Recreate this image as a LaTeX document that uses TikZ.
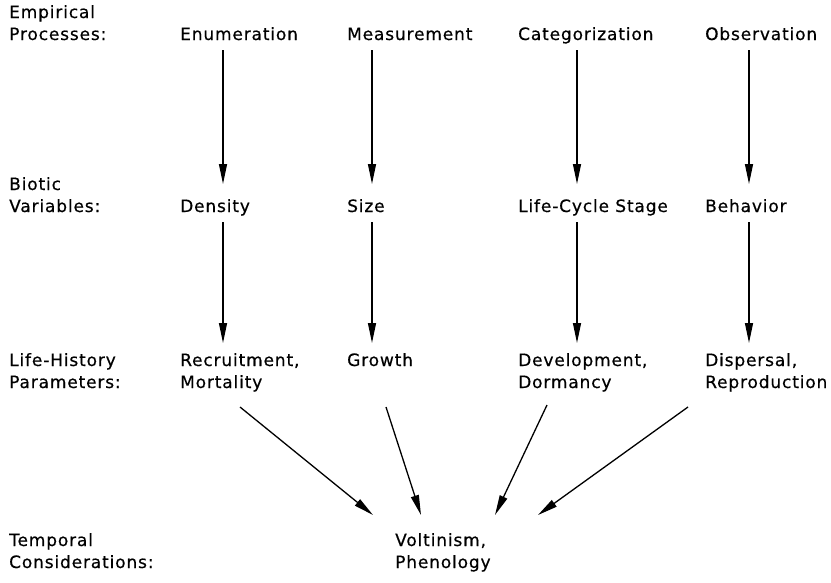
\documentclass[tikz,border=0pt]{standalone}
\usepackage{fontspec}
\setmainfont{DejaVu Sans}[LetterSpace=5,FakeBold=0.5]
\usetikzlibrary{arrows.meta,positioning}

\begin{document}
\begin{tikzpicture}[x=1pt,y=-1pt,
	lbl/.style={anchor=base west,inner sep=0pt,align=left,font=\fontsize{17}{22}\selectfont},
	arr/.style={-{Triangle[length=20pt,width=8pt]},line width=1.3pt}]
		\useasboundingbox (0,0) rectangle (831,582);
		
		% row captions (base = last line)
		\node[lbl] (rowa) at (9,40) {Empirical\\Processes:};
		\node[lbl] (rowb) at (9,212) {Biotic\\Variables:};
		\node[lbl] (rowc) at (9,388) {Life-History\\Parameters:};
		\node[lbl] (rowd) at (9,568) {Temporal\\Considerations:};
		
		% empirical processes
		\node[lbl] (enum) at (180,40) {Enumeration};
		\node[lbl] (meas) at (347,40) {Measurement};
		\node[lbl] (cat) at (518,40) {Categorization};
		\node[lbl] (obs) at (705,40) {Observation};
		
		% biotic variables
		\node[lbl] (dens) at (180,212) {Density};
		\node[lbl] (size) at (347,212) {Size};
		\node[lbl] (stage) at (518,212) {Life-Cycle Stage};
		\node[lbl] (behav) at (705,212) {Behavior};
		
		% life-history parameters
		\node[lbl] (recr) at (180,388) {Recruitment,\\Mortality};
		\node[lbl] (grow) at (347,366) {Growth};
		\node[lbl] (devel) at (518,388) {Development,\\Dormancy};
		\node[lbl] (disp) at (705,388) {Dispersal,\\Reproduction};
		
		% temporal considerations
		\node[lbl] (volt) at (395,568) {Voltinism,\\Phenology};
		
		\draw[arr] ([shift={(43,10)}]enum.base west) -- ([shift={(43,-28)}]dens.base west);
		\draw[arr] ([shift={(25,10)}]meas.base west) -- ([shift={(25,-28)}]size.base west);
		\draw[arr] ([shift={(59,10)}]cat.base west) -- ([shift={(59,-28)}]stage.base west);
		\draw[arr] ([shift={(44,10)}]obs.base west) -- ([shift={(44,-28)}]behav.base west);
		
		\draw[arr] ([shift={(43,10)}]dens.base west) -- ([shift={(43,-45)}]recr.base west);
		\draw[arr] ([shift={(25,10)}]size.base west) -- ([shift={(25,-23)}]grow.base west);
		\draw[arr] ([shift={(59,10)}]stage.base west) -- ([shift={(59,-45)}]devel.base west);
		\draw[arr] ([shift={(44,10)}]behav.base west) -- ([shift={(44,-45)}]disp.base west);
		
		\draw[arr] ([shift={(60,19)}]recr.base west) -- ([shift={(-22,-53)}]volt.base west);
		\draw[arr] ([shift={(39,41)}]grow.base west) -- ([shift={(26,-53)}]volt.base west);
		\draw[arr] ([shift={(29,17)}]devel.base west) -- ([shift={(100,-53)}]volt.base west);
		\draw[arr] ([shift={(-17,19)}]disp.base west) -- ([shift={(143,-53)}]volt.base west);
		
\end{tikzpicture}
\end{document}
